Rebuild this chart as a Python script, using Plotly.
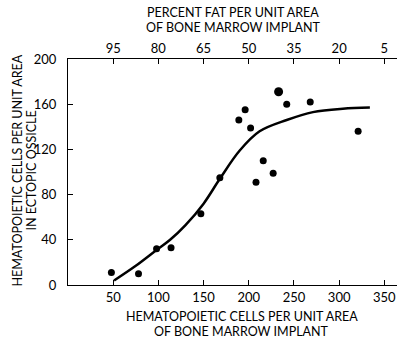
import plotly.graph_objects as go

# Data points (hematopoietic cells per unit area of implant vs. in ossicle)
pts_x = [48, 78, 98, 114, 147, 168, 189, 196, 202, 208, 216, 227, 233, 242, 268, 321]
pts_y = [11, 10, 32, 33, 63, 95, 146, 155, 139, 91, 110, 99, 171, 160, 162, 136]
pts_size = [7, 7, 7, 7, 7, 7, 7, 7, 7, 7, 7, 7, 9, 7, 7, 7]

# Hand-drawn fitted curve
curve_x = [51, 75, 98, 113, 130, 150, 168, 190, 212, 242, 271, 304, 334]
curve_y = [4, 17, 31, 40, 53, 72, 94, 119, 136, 146, 153, 156, 157]

# Ticks
bottom_ticks = [50, 100, 150, 200, 250, 300, 350]
top_tick_text = ["95", "80", "65", "50", "35", "20", "5"]
y_ticks = [0, 40, 80, 120, 160, 200]

# Axis titles
top_title = ["PERCENT FAT PER UNIT AREA", "OF BONE MARROW IMPLANT"]
bottom_title = ["HEMATOPOIETIC CELLS PER UNIT AREA", "OF BONE MARROW IMPLANT"]
left_title = ["HEMATOPOIETIC CELLS PER UNIT AREA", "IN ECTOPIC OSSICLE"]

FONT = "Lato"
fig = go.Figure()
fig.add_trace(go.Scatter(x=curve_x, y=curve_y, mode="lines",
                         line=dict(color="black", width=2.5, shape="spline", smoothing=1.0),
                         hoverinfo="skip", showlegend=False))
fig.add_trace(go.Scatter(x=pts_x, y=pts_y, mode="markers",
                         marker=dict(color="black", size=pts_size, opacity=1,
                                     line=dict(width=0)),
                         showlegend=False))
fig.add_trace(go.Scatter(x=[None], y=[None], xaxis="x2", showlegend=False))

axis_common = dict(showgrid=False, zeroline=False, ticks="inside", ticklen=5,
                   tickcolor="black", tickwidth=1, linecolor="black", linewidth=1,
                   automargin=False,
                   tickfont=dict(family=FONT, size=13, color="black"))

fig.update_layout(
    width=397, height=340,
    margin=dict(l=68, r=0, t=59, b=55),
    paper_bgcolor="white", plot_bgcolor="white",
    font=dict(family=FONT, color="black"),
    xaxis=dict(range=[0, 364], tickvals=bottom_ticks, showline=True, **axis_common),
    xaxis2=dict(range=[0, 364], tickvals=bottom_ticks, ticktext=top_tick_text,
                overlaying="x", side="top", showline=True, **axis_common),
    yaxis=dict(range=[0, 200], tickvals=y_ticks, showline=True,
               ticklabelstandoff=8, **axis_common),
)

tf = dict(family=FONT, size=12.5, color="black")
W, H, L, T = 329, 226, 68, 59
# top title
for line, yc in zip(top_title, [12.5, 27]):
    fig.add_annotation(text=line, xref="paper", yref="paper",
                       x=(233 - L) / W, y=(T + H - yc) / H,
                       showarrow=False, font=tf, xanchor="center", yanchor="middle")
# bottom title
for line, yc in zip(bottom_title, [316.5, 331]):
    fig.add_annotation(text=line, xref="paper", yref="paper",
                       x=(241.5 - L) / W, y=(T + H - yc) / H,
                       showarrow=False, font=tf, xanchor="center", yanchor="middle")
# left title
for line, xc in zip(left_title, [16.5, 30.5]):
    fig.add_annotation(text=line, xref="paper", yref="paper",
                       x=(xc - L) / W, y=(T + H - 171) / H, textangle=-90,
                       showarrow=False, font=tf, xanchor="center", yanchor="middle")

fig.write_html("out.html", config={"displayModeBar": False},
               post_script="document.body.style.margin='0px';"
                           "document.body.style.overflow='hidden';")
